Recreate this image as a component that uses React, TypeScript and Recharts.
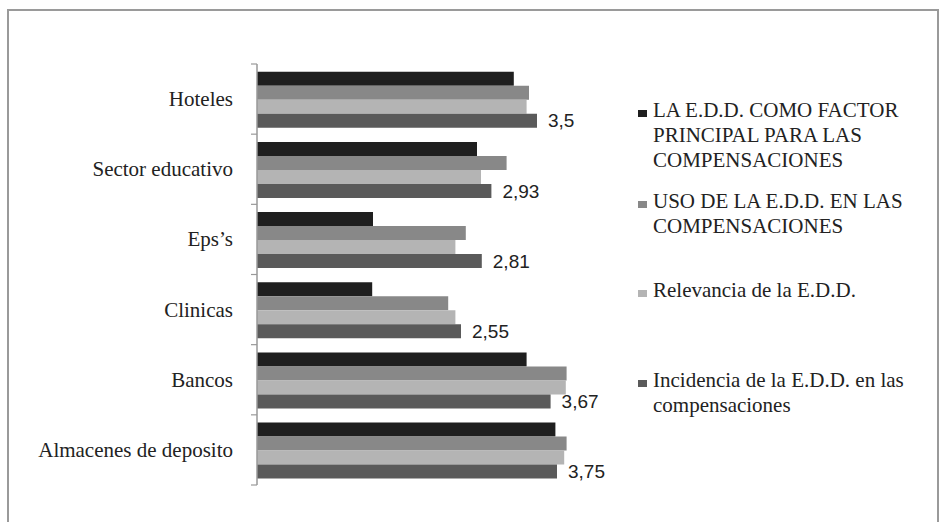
import React from 'react';
import { BarChart, Bar, XAxis, YAxis, LabelList } from 'recharts';

const categories = ['Hoteles', 'Sector educativo', 'Eps’s', 'Clinicas', 'Bancos', 'Almacenes de deposito'];
const factorPrincipal = [3.21, 2.75, 1.45, 1.44, 3.37, 3.73];
const usoCompensaciones = [3.4, 3.12, 2.61, 2.39, 3.87, 3.87];
const relevancia = [3.37, 2.8, 2.48, 2.48, 3.86, 3.84];
const incidencia = [3.5, 2.93, 2.81, 2.55, 3.67, 3.75];

const seriesNames = [
  ['LA E.D.D. COMO FACTOR', 'PRINCIPAL PARA LAS', 'COMPENSACIONES'],
  ['USO DE LA E.D.D. EN LAS', 'COMPENSACIONES'],
  ['Relevancia de la E.D.D.'],
  ['Incidencia de la E.D.D. en las', 'compensaciones'],
];
const seriesColors = ['#1f1f1f', '#888888', '#b4b4b4', '#5a5a5a'];
const legendTops = [98, 189, 278, 368];

const data = categories.map((name, i) => ({
  name,
  factorPrincipal: factorPrincipal[i],
  usoCompensaciones: usoCompensaciones[i],
  relevancia: relevancia[i],
  incidencia: incidencia[i],
}));

const serif = '"Liberation Serif", "Times New Roman", serif';
const sans = '"Liberation Sans", Arial, sans-serif';
const TICK_MARGIN = 24;

function CategoryTick(props: any) {
  const { x, y, payload, index, visibleTicksCount } = props;
  const half = payload && payload.offset ? payload.offset : 35;
  const ax = x + TICK_MARGIN;
  const isLast = index === (visibleTicksCount ?? categories.length) - 1;
  return (
    <g>
      <line x1={ax - 6} x2={ax} y1={y - half} y2={y - half} stroke="#999999" strokeWidth={1.2} />
      {isLast && <line x1={ax - 6} x2={ax} y1={y + half} y2={y + half} stroke="#999999" strokeWidth={1.2} />}
      <text x={x} y={y} dy={7} textAnchor="end" fontFamily={serif} fontSize={21} fill="#222222">
        {payload.value}
      </text>
    </g>
  );
}

export default function App() {
  return (
    <div style={{ position: 'absolute', left: 0, top: 0, width: 939, height: 522, background: '#fff', overflow: 'hidden' }}>
      <div
        style={{
          position: 'absolute',
          left: 7,
          top: 9,
          width: 928,
          height: 530,
          borderLeft: '2px solid #9a9a9a',
          borderTop: '2px solid #9a9a9a',
          borderRight: '2px solid #9a9a9a',
        }}
      />
      <div style={{ position: 'absolute', left: 0, top: 0 }}>
        <BarChart
          width={939}
          height={522}
          data={data}
          layout="vertical"
          margin={{ top: 64, right: 282, bottom: 37, left: 2 }}
          barCategoryGap="11%"
          barGap={0}
        >
          <XAxis type="number" domain={[0, 5]} hide />
          <YAxis
            type="category"
            dataKey="name"
            width={255}
            axisLine={{ stroke: '#999999', strokeWidth: 1.5 }}
            tickLine={false}
            tickSize={0}
            tickMargin={TICK_MARGIN}
            tick={<CategoryTick />}
          />
          <Bar dataKey="factorPrincipal" fill={seriesColors[0]} isAnimationActive={false} />
          <Bar dataKey="usoCompensaciones" fill={seriesColors[1]} isAnimationActive={false} />
          <Bar dataKey="relevancia" fill={seriesColors[2]} isAnimationActive={false} />
          <Bar dataKey="incidencia" fill={seriesColors[3]} isAnimationActive={false}>
            <LabelList
              dataKey="incidencia"
              position="right"
              offset={11}
              formatter={(v: any) => String(v).replace('.', ',')}
              style={{ fontFamily: sans, fontSize: 19, fill: '#222222' }}
            />
          </Bar>
        </BarChart>
      </div>
      {seriesNames.map((lines, i) => (
        <div key={i} style={{ position: 'absolute', left: 638, top: legendTops[i], fontFamily: serif, fontSize: 21, lineHeight: '25px', color: '#222' }}>
          <div style={{ position: 'absolute', left: 0, top: 12, width: 9, height: 7, background: seriesColors[i] }} />
          <div style={{ position: 'absolute', left: 15, top: 0, whiteSpace: 'nowrap' }}>
            {lines.map((l, j) => (
              <div key={j}>{l}</div>
            ))}
          </div>
        </div>
      ))}
    </div>
  );
}
